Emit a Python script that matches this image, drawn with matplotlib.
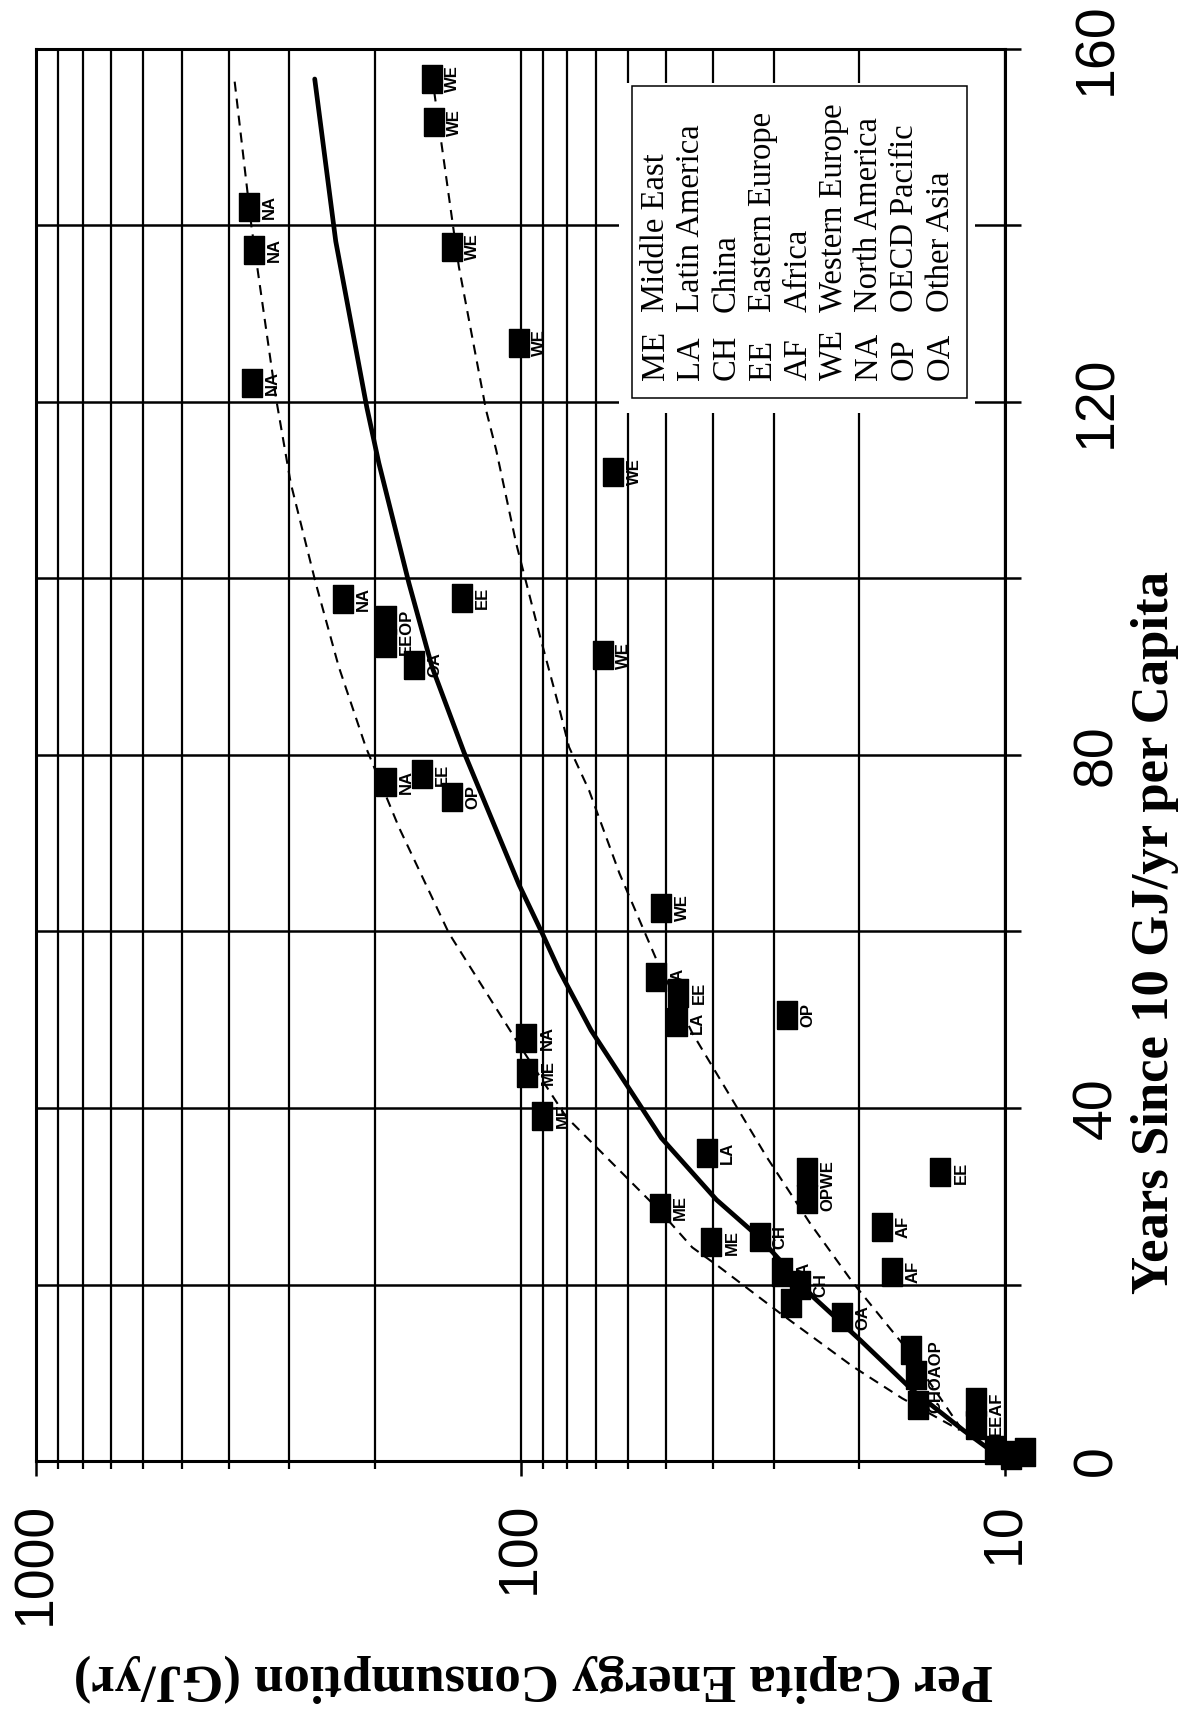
import matplotlib
matplotlib.use("Agg")
import matplotlib.pyplot as plt
import numpy as np
from matplotlib.patches import Rectangle
from matplotlib.ticker import LogLocator, NullFormatter

# region points: per capita energy (GJ/yr) against years since reaching 10 GJ/yr
region = ['WE', 'WE', 'NA', 'NA', 'WE', 'WE', 'NA', 'WE',
          'NA', 'OP', 'EE', 'OA', 'EE', 'WE',
          'NA', 'EE', 'OP', 'WE',
          'LA', 'EE', 'LA', 'OP', 'NA', 'ME', 'ME', 'LA',
          'WE', 'OP', 'ME', 'ME', 'CH', 'EE', 'AF', 'AF',
          'LA', 'CH', '', 'OA',
          'OP', 'OA', 'CH', 'AF', 'EE', '', '', '']
energy = [152.5, 151.0, 364, 355, 138.5, 100.6, 359, 64.3,
          232.8, 189.7, 189.7, 166, 132, 67.5,
          189.7, 159.7, 138.5, 51.2,
          52.4, 47.2, 47.6, 28.2, 97.3, 96.8, 90.2, 41.3,
          25.6, 25.6, 51.6, 40.4, 32.1, 13.6, 17.9, 17.1,
          28.8, 26.5, 27.7, 21.7,
          15.6, 15.3, 15.1, 11.5, 11.5, 10.5, 9.7, 9.1]
years = [156.6, 151.7, 142.1, 137.2, 137.6, 126.7, 122.2, 112.1,
         97.7, 95.3, 92.7, 90.2, 97.8, 91.3,
         76.9, 77.8, 75.2, 62.7,
         54.8, 53.0, 49.7, 50.5, 47.9, 44.0, 39.1, 34.9,
         32.7, 29.7, 28.7, 24.8, 25.4, 32.7, 26.5, 21.4,
         21.4, 19.9, 17.9, 16.3,
         12.6, 9.7, 6.3, 6.7, 4.1, 1.2, 0.7, 1.0]
# overlapping points that share one label (listed bottom to top)
joined = [(10, 9), (27, 26), (40, 39, 38), (42, 41)]

# fitted curves
solid_energy = [265.9, 240.6, 207.6, 196.1, 170.0, 152.3, 130.8, 100.7, 90.2, 83.2,
                71.5, 51.2, 39.4, 32.1, 24.9, 19.9, 15.5, 12.2, 10.7]
solid_years = [156.6, 138.2, 119.4, 113.1, 99.5, 90.0, 80.3, 65.3, 59.8, 55.6,
               48.8, 36.6, 29.6, 25.3, 18.6, 13.7, 8.0, 3.5, 1.2]
na_energy = [389, 359, 320, 298, 264.7, 237.2, 208.6, 178.2, 140.5, 102.1,
             80.5, 51.7, 44.2, 38.9, 29.2, 20.6, 16.3, 12.4]
na_years = [156.3, 139.8, 120.6, 110.8, 99.5, 90.0, 80.9, 71.8, 59.8, 47.7,
            39.0, 28.4, 24.2, 22.0, 16.8, 10.7, 7.1, 3.5]
we_energy = [152.3, 150.2, 137.2, 134, 117.8, 112.3, 102.1, 91.5, 84.0, 79.4,
             72.2, 62.5, 52.4, 44.2, 31.0, 25.3, 20.6, 15.9, 12.4]
we_years = [157.1, 154.6, 139.2, 135.3, 119.1, 114.6, 104.0, 93.8, 86.2, 80.9,
            76.0, 66.6, 56.8, 48.5, 34.4, 27.0, 20.2, 12.6, 3.9]

x_ticks = [10, 100, 1000]
x_ticklabels = ['10', '100', '1000']
y_ticks = [0, 20, 40, 60, 80, 100, 120, 140, 160]
y_ticklabels = ['0', '', '40', '', '80', '', '120', '', '160']

legend_codes = ['ME', 'LA', 'CH', 'EE', 'AF', 'WE', 'NA', 'OP', 'OA']
legend_names = ['Middle East', 'Latin America', 'China', 'Eastern Europe', 'Africa',
                'Western Europe', 'North America', 'OECD Pacific', 'Other Asia']

W, H = 1193, 1711


def fx(px):
    return px / W


def fy(py):
    return 1 - py / H


fig = plt.figure(figsize=(W / 100, H / 100), dpi=100)
ax = fig.add_axes([fx(36), fy(1461), 969 / W, 1412 / H])
ax.set_xscale('log')
ax.set_xlim(1000, 10)
ax.set_ylim(0, 160)

# grid
ax.set_xticks(x_ticks, labels=x_ticklabels)
ax.xaxis.set_minor_locator(LogLocator(base=10, subs=range(2, 10)))
ax.xaxis.set_minor_formatter(NullFormatter())
ax.grid(True, which='both', axis='x', color='black', linewidth=1.6)
ax.yaxis.tick_right()
ax.set_yticks(y_ticks, labels=y_ticklabels)
ax.grid(True, which='major', axis='y', color='black', linewidth=1.8)

for lab in ax.get_xticklabels():
    lab.set_rotation(90)
    lab.set_fontsize(40)
    lab.set_family('Liberation Sans')
    lab.set_va('top')
    lab.set_ha('center')
for lab in ax.get_yticklabels():
    lab.set_rotation(90)
    lab.set_fontsize(40)
    lab.set_family('Liberation Sans')
    lab.set_va('center')
    lab.set_ha('left')

ax.tick_params(axis='x', which='major', direction='out', length=10.5, width=1.8, pad=19)
ax.tick_params(axis='x', which='minor', direction='out', length=5.5, width=1.6)
ax.tick_params(axis='y', direction='out', length=11.5, width=1.8, pad=36,
               left=False, right=True)
for sp in ax.spines.values():
    sp.set_linewidth(2.2)

# curves
ax.plot(solid_energy, solid_years, color='black', lw=3.4, solid_capstyle='round', zorder=2)
ax.plot(na_energy, na_years, color='black', lw=1.5, dashes=(4.8, 3.4), zorder=2)
ax.plot(we_energy, we_years, color='black', lw=1.5, dashes=(4.8, 3.4), zorder=2)

# points
rect = [(-0.37, -0.5), (0.37, -0.5), (0.37, 0.5), (-0.37, 0.5), (-0.37, -0.5)]
ax.plot(energy, years, linestyle='none', marker=rect, markersize=20,
        color='black', zorder=5, clip_on=False)

lab_style = dict(textcoords='offset points', rotation=90, ha='left', va='center',
                 fontsize=12, fontweight='bold', family='Liberation Sans', zorder=4.5)
in_group = {i for g in joined for i in g}
for i, code in enumerate(region):
    if code and i not in in_group:
        ax.annotate(code, (energy[i], years[i]), xytext=(9.5, 0), **lab_style)
for g in joined:
    text = ''.join(region[i] for i in g)
    e = np.exp(np.mean(np.log([energy[i] for i in g])))
    y = np.mean([years[i] for i in g])
    ax.annotate(text, (e, y), xytext=(9.5, 0), **lab_style)

# legend box
ax.add_patch(Rectangle(((619 - 36) / 969, (1461 - 413) / 1412), 356 / 969, 330 / 1412,
                       transform=ax.transAxes, facecolor='white', edgecolor='none', zorder=3))
ax.add_patch(Rectangle(((632 - 36) / 969, (1461 - 398) / 1412), 335 / 969, 312 / 1412,
                       transform=ax.transAxes, facecolor='white', edgecolor='black',
                       linewidth=1.1, zorder=3.1))
for i, (code, name) in enumerate(zip(legend_codes, legend_names)):
    x = fx(655.5 + 35.6 * i)
    fig.text(x, fy(380), code, rotation=90, ha='center', va='bottom',
             family='Liberation Serif', fontsize=23.5, zorder=4)
    fig.text(x, fy(312), name, rotation=90, ha='center', va='bottom',
             family='Liberation Serif', fontsize=23.5, zorder=4)

# axis titles
fig.text(fx(1155), fy(933), 'Years Since 10 GJ/yr per Capita', rotation=90,
         ha='center', va='center', family='Liberation Serif', fontweight='bold', fontsize=38)
fig.text(fx(533), fy(1678), 'Per Capita Energy Consumption (GJ/yr)', rotation=180,
         ha='center', va='center', family='Liberation Serif', fontweight='bold', fontsize=38)

fig.savefig('out.png', dpi=100)
